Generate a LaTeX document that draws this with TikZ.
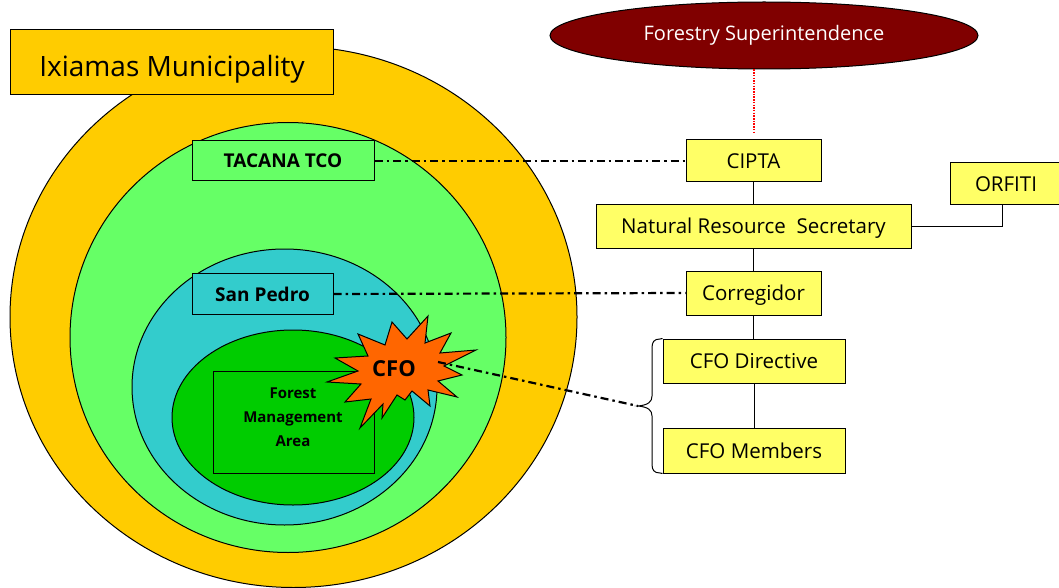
\documentclass[tikz,border=0pt]{standalone}
\usepackage{fontspec}
\setmainfont{Open Sans}
\usetikzlibrary{shapes.geometric}

\definecolor{bandorange}{HTML}{FFCC00}
\definecolor{tcogreen}{HTML}{66FF66}
\definecolor{communitycyan}{HTML}{33CCCC}
\definecolor{forestgreen}{HTML}{00CC00}
\definecolor{burstorange}{HTML}{FF6600}
\definecolor{orgyellow}{HTML}{FFFF66}
\definecolor{agencyred}{HTML}{800000}

\tikzset{
  region/.style={draw=black, line width=1pt},
  tagbox/.style={draw=black, line width=1pt, inner sep=0pt, font=\bfseries\fontsize{19}{21}\selectfont},
  orgbox/.style={draw=black, line width=1pt, fill=orgyellow, inner sep=0pt,
                 text height=17pt, text depth=2pt, font=\fontsize{20.5}{22}\selectfont},
  link/.style={draw=black, line width=1pt},
  dashdot/.style={draw=black, line width=2.2pt, dash pattern=on 8pt off 4pt on 2.5pt off 4pt},
}

\begin{document}
\begin{tikzpicture}[x=1pt, y=-1pt]
\useasboundingbox (0,0) rectangle (1059,588);

% nested territories
\draw[region, fill=bandorange] (293.5,317) ellipse [x radius=283.5, y radius=270.5];
\node[tagbox, fill=bandorange, minimum width=323pt, minimum height=65pt,
      text height=33pt, text depth=5pt,
      font=\fontsize{28}{30}\selectfont] (ixiamas) at (172,62.5) {Ixiamas Municipality};

\draw[region, fill=tcogreen] (288,337.5) ellipse [x radius=218, y radius=215];
\node[tagbox, fill=tcogreen, minimum width=182pt, minimum height=40pt] (tacana) at (283,161) {TACANA TCO};

\draw[region, fill=communitycyan] (284.5,387) ellipse [x radius=152.5, y radius=138];
\node[tagbox, fill=communitycyan, minimum width=141pt, minimum height=41pt] (sanpedro) at (262.5,294) {San Pedro};

\draw[region, fill=forestgreen] (293,417.5) ellipse [x radius=121, y radius=87.5];
\node[tagbox, fill=forestgreen, minimum width=161pt, minimum height=102pt] (fma) at (293.5,422) {};
\node[align=center, font=\bfseries\fontsize{15}{24}\selectfont] (fmatext) at (293,417) {Forest\\Management\\Area};

% community forest organisation burst
\draw[region, fill=burstorange]
  (428,316) -- (425,343) -- (451,333) -- (440,353) -- (476,350) -- (444,366)
  -- (462,375) -- (438,381) -- (457,397) -- (428,390) -- (430,406) -- (412,391)
  -- (405,400) -- (397,395) -- (382,418) -- (383,404) -- (360,428) -- (371,399)
  -- (345,402) -- (361,384) -- (327,382) -- (358,371) -- (335,358) -- (368,356)
  -- (358,334) -- (385,345) -- (392,322) -- (407,339) -- cycle;
\node[font=\bfseries\fontsize{22}{24}\selectfont, inner sep=0pt] (cfo) at (394,369) {CFO};
\coordinate (cfoanchor) at (438,362);

% institutional chart
\node[ellipse, draw=black, line width=1pt, fill=agencyred, minimum width=428pt, minimum height=67pt,
      inner sep=0pt, text=white, font=\fontsize{20}{22}\selectfont] (fs) at (764,35.5) {Forestry Superintendence};
\node[orgbox, minimum width=135pt, minimum height=42pt] (cipta) at (753.5,161) {CIPTA};
\node[orgbox, minimum width=315pt, minimum height=44pt] (nrs) at (753.5,226) {Natural Resource\ \ Secretary};
\node[orgbox, minimum width=112pt, minimum height=41pt] (orfiti) at (1006,183.5) {ORFITI};
\node[orgbox, minimum width=135pt, minimum height=44pt] (corregidor) at (753.5,293) {Corregidor};
\node[orgbox, minimum width=182pt, minimum height=44pt] (cfodir) at (754,361) {CFO Directive};
\node[orgbox, minimum width=182pt, minimum height=45pt] (cfomem) at (754,450.5) {CFO Members};

\draw[red, line width=2pt, dash pattern=on 1.5pt off 1.2pt, shorten >=7pt]
  (fs.south -| cipta.north) -- (cipta.north);
\draw[link] (cipta.south) -- (nrs.north -| cipta.south);
\draw[link] (nrs.south -| corregidor.north) -- (corregidor.north);
\draw[link] (corregidor.south) -- (cfodir.north -| corregidor.south);
\draw[link] (cfodir.south) -- (cfomem.north -| cfodir.south);
\draw[link] (nrs.east) -| (orfiti.south -| 1002,0);

% brace grouping the CFO bodies
\coordinate (bracetip) at (638,406);
\draw[link] (cfodir.north west) -- (660,339) .. controls (654,339) and (652,342) .. (652,348)
  -- (652,396) .. controls (652,402) and (648,405) .. (bracetip)
  .. controls (648,407) and (652,410) .. (652,416) -- (652,464)
  .. controls (652,470) and (654,473) .. (660,473) -- (cfomem.south west);

% correspondence between territories and organisations
\draw[dashdot] (tacana.east) -- (cipta.west);
\draw[dashdot] (sanpedro.east) -- (corregidor.west);
\draw[dashdot] (cfoanchor) -- (bracetip);
\end{tikzpicture}
\end{document}
